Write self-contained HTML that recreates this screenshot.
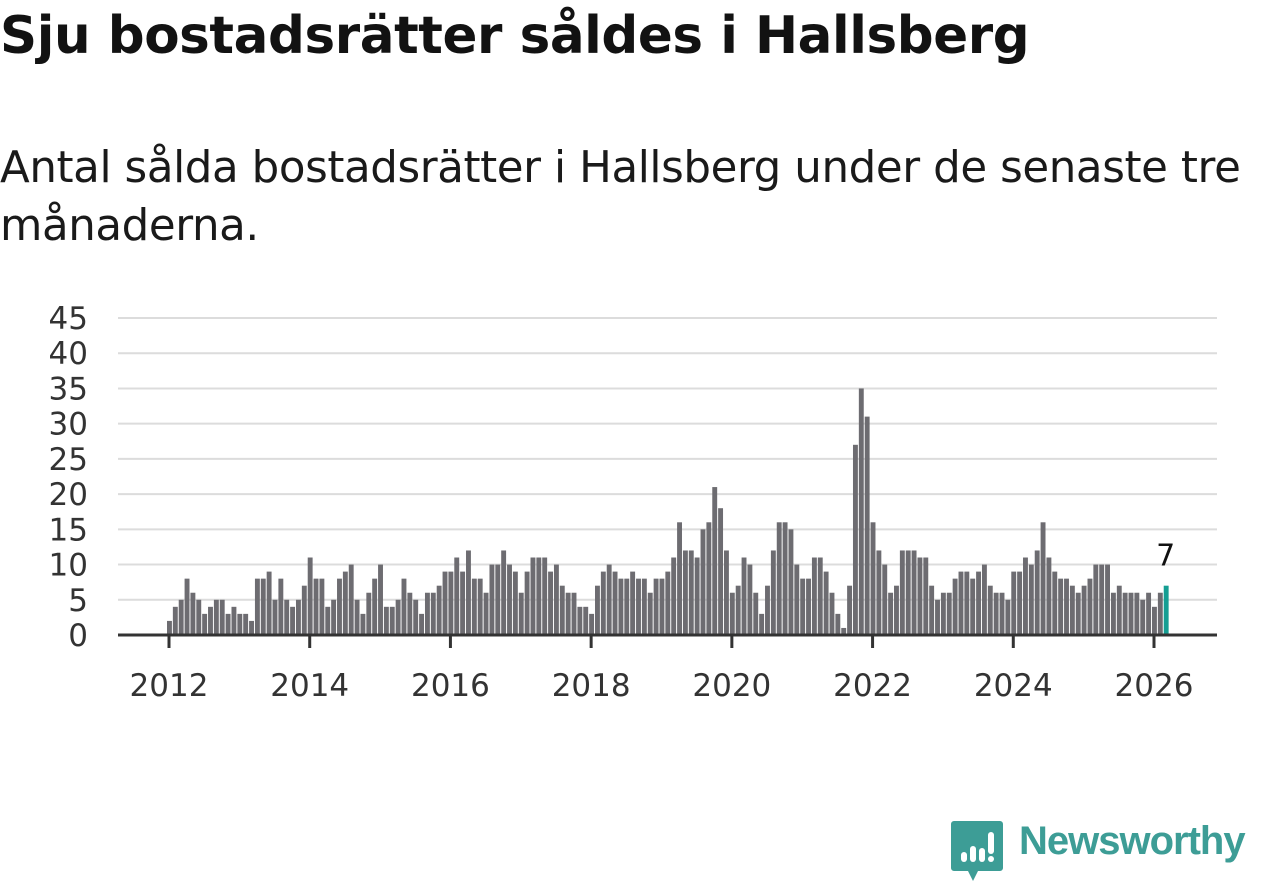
<!DOCTYPE html>
<html><head><meta charset="utf-8">
<style>
body{margin:0;width:1262px;height:879px;background:#fff;overflow:hidden;font-family:"DejaVu Sans","Liberation Sans",sans-serif;color:#111}
#title{position:absolute;left:0;top:6px;font-size:51.5px;font-weight:bold;letter-spacing:-0.4px;white-space:nowrap;color:#121212}
#sub{position:absolute;left:0;top:139px;font-size:43.5px;line-height:58px;width:1262px;color:#1a1a1a;letter-spacing:-0.4px}
svg{position:absolute;left:0;top:0}
</style></head><body>
<div id="title">Sju bostadsrätter såldes i Hallsberg</div>
<div id="sub">Antal sålda bostadsrätter i Hallsberg under de senaste tre månaderna.</div>
<svg id="chart" width="1262" height="879"></svg>
<script>
const values2012=[2,4,5,8,6,5,3,4,5,5,3,4];
const values2013=[3,3,2,8,8,9,5,8,5,4,5,7];
const values2014=[11,8,8,4,5,8,9,10,5,3,6,8];
const values2015=[10,4,4,5,8,6,5,3,6,6,7,9];
const values2016=[9,11,9,12,8,8,6,10,10,12,10,9];
const values2017=[6,9,11,11,11,9,10,7,6,6,4,4];
const values2018=[3,7,9,10,9,8,8,9,8,8,6,8];
const values2019=[8,9,11,16,12,12,11,15,16,21,18,12];
const values2020=[6,7,11,10,6,3,7,12,16,16,15,10];
const values2021=[8,8,11,11,9,6,3,1,7,27,35,31];
const values2022=[16,12,10,6,7,12,12,12,11,11,7,5];
const values2023=[6,6,8,9,9,8,9,10,7,6,6,5];
const values2024=[9,9,11,10,12,16,11,9,8,8,7,6];
const values2025=[7,8,10,10,10,6,7,6,6,6,5,6];
const values2026=[4,6,7];
const yTicks=[0,5,10,15,20,25,30,35,40,45];
const xTickYears=[2012,2014,2016,2018,2020,2022,2024,2026];
const startYear=2012;

const values=[].concat(values2012,values2013,values2014,values2015,values2016,values2017,values2018,values2019,values2020,values2021,values2022,values2023,values2024,values2025,values2026);
const svg=document.getElementById('chart');
const NS='http://www.w3.org/2000/svg';
const y=v=>635-v*(317/45);
const x=m=>169+m*(985/168);
function mk(t,a){const e=document.createElementNS(NS,t);for(const k in a)e.setAttribute(k,a[k]);svg.appendChild(e);return e;}
yTicks.forEach(t=>{
  if(t>0){const g=mk('line',{x1:118,x2:1217,y1:y(t),y2:y(t),stroke:'#dcdcdc','stroke-width':2});
  
  }
  const l=mk('text',{x:88,y:y(t)+11,'text-anchor':'end','font-size':31,fill:'#333','font-family':'DejaVu Sans, Liberation Sans, sans-serif'});
  l.textContent=t;
  
  
});
values.forEach((v,i)=>{
  const last=i===values.length-1;
  const b=mk('rect',{x:x(i)-2,y:y(v),width:4.9,height:635-y(v),fill:last?'#159e93':'#6d6c71'});
  
  
  if(last){const t=mk('text',{x:x(i),y:y(v)-20,'text-anchor':'middle','font-size':30,fill:'#111','font-family':'DejaVu Sans, Liberation Sans, sans-serif'});
    t.textContent=v;
    
    }
});
const ax=mk('line',{x1:118,x2:1217,y1:635,y2:635,stroke:'#333','stroke-width':3});


xTickYears.forEach(yr=>{
  const m=(yr-startYear)*12;
  const tk=mk('line',{x1:x(m),x2:x(m),y1:635,y2:648,stroke:'#333','stroke-width':3});
  
  
  const l=mk('text',{x:x(m),y:696,'text-anchor':'middle','font-size':31,fill:'#333','font-family':'DejaVu Sans, Liberation Sans, sans-serif'});
  l.textContent=yr;
  
  
});
</script>
<svg width="60" height="66" style="left:948px;top:818px">
<path d="M6 3h46a3 3 0 0 1 3 3v44a3 3 0 0 1-3 3H30l-5 10l-5-10H6a3 3 0 0 1-3-3V6a3 3 0 0 1 3-3z" fill="#3d9d96"/>
<rect x="13" y="34" width="6" height="10" rx="3" fill="#fff"/>
<rect x="22" y="28" width="6" height="16" rx="3" fill="#fff"/>
<rect x="31" y="30" width="6" height="14" rx="3" fill="#fff"/>
<rect x="40" y="14" width="6" height="22" rx="3" fill="#fff"/>
<circle cx="43" cy="41" r="3" fill="#fff"/>
</svg>
<div style="position:absolute;left:1019px;top:819px;font-size:40px;font-weight:bold;color:#3d9d96;font-family:'Liberation Sans',sans-serif;letter-spacing:-1px;white-space:nowrap">Newsworthy</div>
</body></html>
